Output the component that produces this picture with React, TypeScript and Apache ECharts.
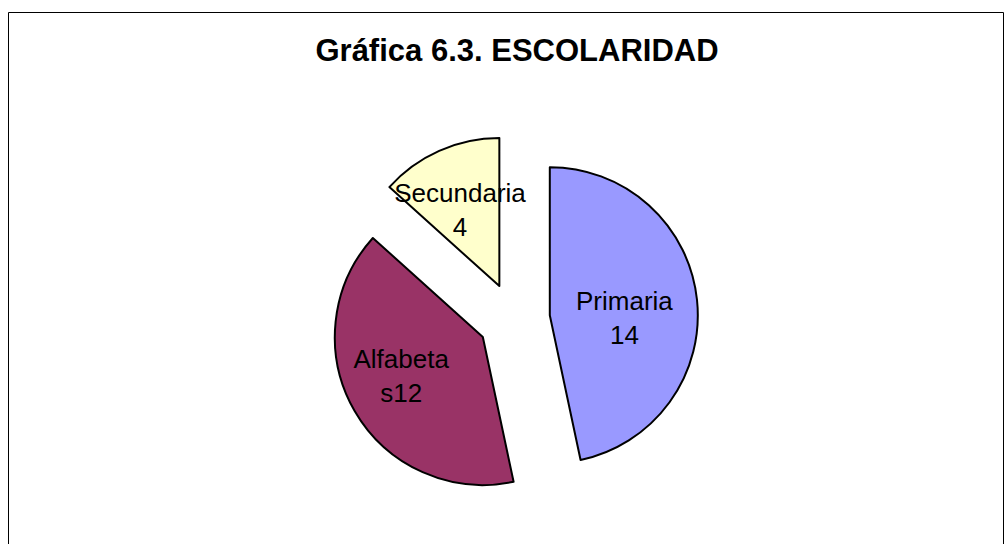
import React, { useEffect, useRef } from "react";
import * as echarts from "echarts";

const TITLE = "Gráfica 6.3. ESCOLARIDAD";
const categories = ["Primaria", "Alfabetas", "Secundaria"];
const values = [14, 12, 4];
const colors = ["#9999FF", "#993366", "#FFFFCC"];
// label nudges (padding) to mimic Excel's label placement
const labelPads = [
  [22, 4, 0, 0],
  [0, 30, 0, 0],
  [0, 16, 12, 0],
];

function labelFor(name: string, value: number): string {
  // Excel wraps "Alfabetas 12" inside the slice as "Alfabeta" / "s12"
  const lines = name === "Alfabetas" ? ["Alfabeta", "s" + value] : [name, String(value)];
  return lines.map((l) => `{t|${l}}`).join("\n");
}

export default function App() {
  const ref = useRef<HTMLDivElement>(null);
  useEffect(() => {
    if (!ref.current) return;
    const chart = echarts.init(ref.current, undefined, { renderer: "svg" });
    chart.setOption({
      animation: false,
      backgroundColor: "#ffffff",
      title: {
        text: TITLE,
        left: 512,
        top: 30,
        textAlign: "center",
        textStyle: {
          fontFamily: "Liberation Sans, Arial, sans-serif",
          fontWeight: "bold",
          fontSize: 31,
          color: "#000000",
        },
      },
      graphic: [
        {
          type: "rect",
          shape: { x: 8.5, y: 12.5, width: 995, height: 600 },
          style: { fill: "none", stroke: "#000000", lineWidth: 1 },
          silent: true,
          z: 0,
        },
      ],
      series: [
        {
          type: "pie",
          center: [514, 319],
          radius: [0, 148],
          startAngle: 90,
          clockwise: true,
          selectedMode: "multiple",
          selectedOffset: 36,
          avoidLabelOverlap: false,
          emphasis: { disabled: true },
          itemStyle: { borderColor: "#000000", borderWidth: 2 },
          label: {
            show: true,
            position: "inside",
            color: "#000000",
            fontFamily: "Liberation Sans, Arial, sans-serif",
            fontSize: 26,
            lineHeight: 34,
            align: "center",
            width: 30,
            overflow: "none",
            formatter: (p: any) => labelFor(p.name, p.value),
            rich: {
              t: {
                fontFamily: "Liberation Sans, Arial, sans-serif",
                fontSize: 26,
                lineHeight: 34,
                color: "#000000",
                align: "center",
              },
            },
          },
          labelLine: { show: false },
          labelLayout: { hideOverlap: false },
          data: categories.map((name, i) => ({
            name,
            value: values[i],
            selected: true,
            itemStyle: { color: colors[i] },
            label: { padding: labelPads[i] },
          })),
        },
      ],
    });
    return () => chart.dispose();
  }, []);
  return (
    <div
      ref={ref}
      style={{ position: "fixed", left: 0, top: 0, width: 1005, height: 544 }}
    />
  );
}
